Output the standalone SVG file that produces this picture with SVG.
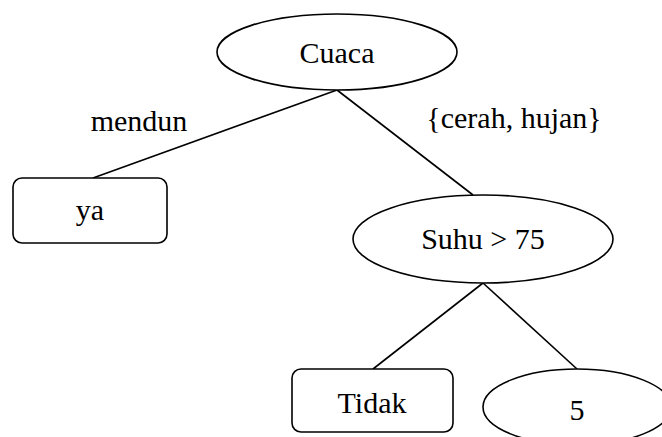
<svg xmlns="http://www.w3.org/2000/svg" width="662" height="437" viewBox="0 0 662 437" font-family="'Liberation Serif', 'Times New Roman', Times, serif">
  <style>
    .shape { fill: #ffffff; stroke: #000000; stroke-width: 1.6; }
    .edge { stroke: #000000; stroke-width: 1.6; fill: none; }
    .lbl { font-family: 'Liberation Serif', 'Times New Roman', Times, serif; font-size: 30px; fill: #000000; text-anchor: middle; }
  </style>
  <rect width="662" height="437" fill="#ffffff"/>

  <!-- connectors -->
  <g id="connectors">
    <line class="edge" x1="337" y1="90" x2="93" y2="178"/>
    <line class="edge" x1="337" y1="90" x2="473" y2="195"/>
    <line class="edge" x1="483" y1="283" x2="373" y2="369"/>
    <line class="edge" x1="483" y1="283" x2="577" y2="369"/>
    <text class="lbl" x="139" y="131">mendun</text>
    <text class="lbl" x="514" y="128">{cerah, hujan}</text>
  </g>

  <g id="node-cuaca">
    <ellipse class="shape" cx="337" cy="52" rx="120" ry="38"/>
    <text class="lbl" x="337" y="63">Cuaca</text>
  </g>

  <g id="node-ya">
    <rect class="shape" x="13" y="178" width="154" height="65" rx="9"/>
    <text class="lbl" x="90" y="220">ya</text>
  </g>

  <g id="node-suhu">
    <ellipse class="shape" cx="483" cy="239" rx="130" ry="44"/>
    <text class="lbl" x="483" y="249">Suhu &gt; 75</text>
  </g>

  <g id="node-tidak">
    <rect class="shape" x="292" y="369" width="161" height="63" rx="9"/>
    <text class="lbl" x="372" y="413">Tidak</text>
  </g>

  <g id="node-5">
    <ellipse class="shape" cx="577" cy="407" rx="94" ry="38"/>
    <text class="lbl" x="577" y="420">5</text>
  </g>
</svg>
